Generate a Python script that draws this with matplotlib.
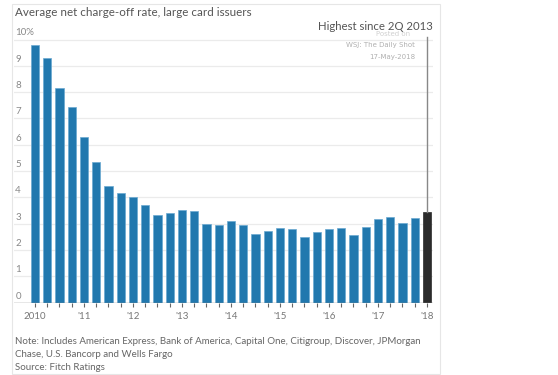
import matplotlib
matplotlib.use("Agg")
import matplotlib.pyplot as plt
from matplotlib.patches import Rectangle

plt.rcParams['font.family'] = ['Lato', 'DejaVu Sans']

values = [9.8, 9.3, 8.15, 7.45, 6.3, 5.35, 4.45, 4.15, 4.0, 3.7, 3.35, 3.42,
          3.54, 3.47, 3.0, 2.97, 3.12, 2.97, 2.62, 2.71, 2.83, 2.8, 2.49, 2.68,
          2.8, 2.83, 2.56, 2.87, 3.18, 3.27, 3.02, 3.22, 3.44]
year_labels = ["2010", "'11", "'12", "'13", "'14", "'15", "'16", "'17", "'18"]
y_ticks = [0, 1, 2, 3, 4, 5, 6, 7, 8, 9, 10]
y_labels = ["0", "1", "2", "3", "4", "5", "6", "7", "8", "9", "10%"]
title = "Average net charge-off rate, large card issuers"
annotation = "Highest since 2Q 2013"
note_lines = ["Note: Includes American Express, Bank of America, Capital One, Citigroup, Discover, JPMorgan",
              "Chase, U.S. Bancorp and Wells Fargo",
              "Source: Fitch Ratings"]

W, H = 558, 375
fig = plt.figure(figsize=(W / 100, H / 100), dpi=100)
fig.patch.set_facecolor("white")

# outer box
fig.patches.append(Rectangle((12 / W, 1 / H), (440 - 12) / W, (371 - 1) / H,
                             transform=fig.transFigure, fill=False,
                             edgecolor="#e6e6e6", linewidth=0.8))

ax = fig.add_axes([14 / W, 1 - 302.7 / H, (433 - 14) / W, (302.7 - 35.6) / H])
n = len(values)
x = list(range(n))
colors = ["#2178ae"] * (n - 1) + ["#2b2b2b"]
edges = ["#6aa9d1"] * (n - 1) + ["#2b2b2b"]
ax.bar(x, values, width=0.68, color=colors, edgecolor=edges, linewidth=0.5, zorder=3)
ax.set_xlim(-1.71, 32.49)
ax.set_ylim(0, 10.15)

for s in ax.spines.values():
    s.set_visible(False)
for v in y_ticks[1:]:
    ax.axhline(v, color="#ebebeb", linewidth=0.9, zorder=1)
ax.axhline(0, color="#888888", linewidth=1.0, zorder=4)

ax.set_yticks([])
ax.set_xticks(x)
ax.set_xticklabels([])
ax.tick_params(axis="x", direction="out", length=3, width=0.8, color="#666666", pad=2)

for v, lab in zip(y_ticks, y_labels):
    ax.text(0.003, v + 0.08, lab, transform=ax.get_yaxis_transform(), ha="left",
            va="bottom", fontsize=7, color="#888888")

for k, lab in enumerate(year_labels):
    ax.text(4 * k, -0.35, lab, ha="center", va="top", fontsize=7, color="#777777")

# annotation line and text
ax.plot([n - 1, n - 1], [values[-1], 10.1], color="#888888", linewidth=1.0,
        clip_on=False, zorder=5)
fig.text(433 / W, 1 - 27 / H, annotation, ha="right", va="center", fontsize=8.2,
         color="#555555")

# watermark
fig.text(410 / W, 1 - 34 / H, "Posted on", ha="right", va="center", fontsize=5,
         color="#d0d0d0", family="DejaVu Sans")
fig.text(415 / W, 1 - 45 / H, "WSJ: The Daily Shot", ha="right", va="center",
         fontsize=5, color="#b0b0b0", family="DejaVu Sans")
fig.text(415 / W, 1 - 57 / H, "17-May-2018", ha="right", va="center",
         fontsize=5, color="#b0b0b0", family="DejaVu Sans")

fig.text(15 / W, 1 - 12 / H, title, ha="left", va="center", fontsize=8.4,
         color="#555555")
for j, line in enumerate(note_lines):
    fig.text(15 / W, 1 - (341 + 13.5 * j) / H, line, ha="left", va="center",
             fontsize=7.05, color="#666666")

fig.savefig("out.png", dpi=100)
